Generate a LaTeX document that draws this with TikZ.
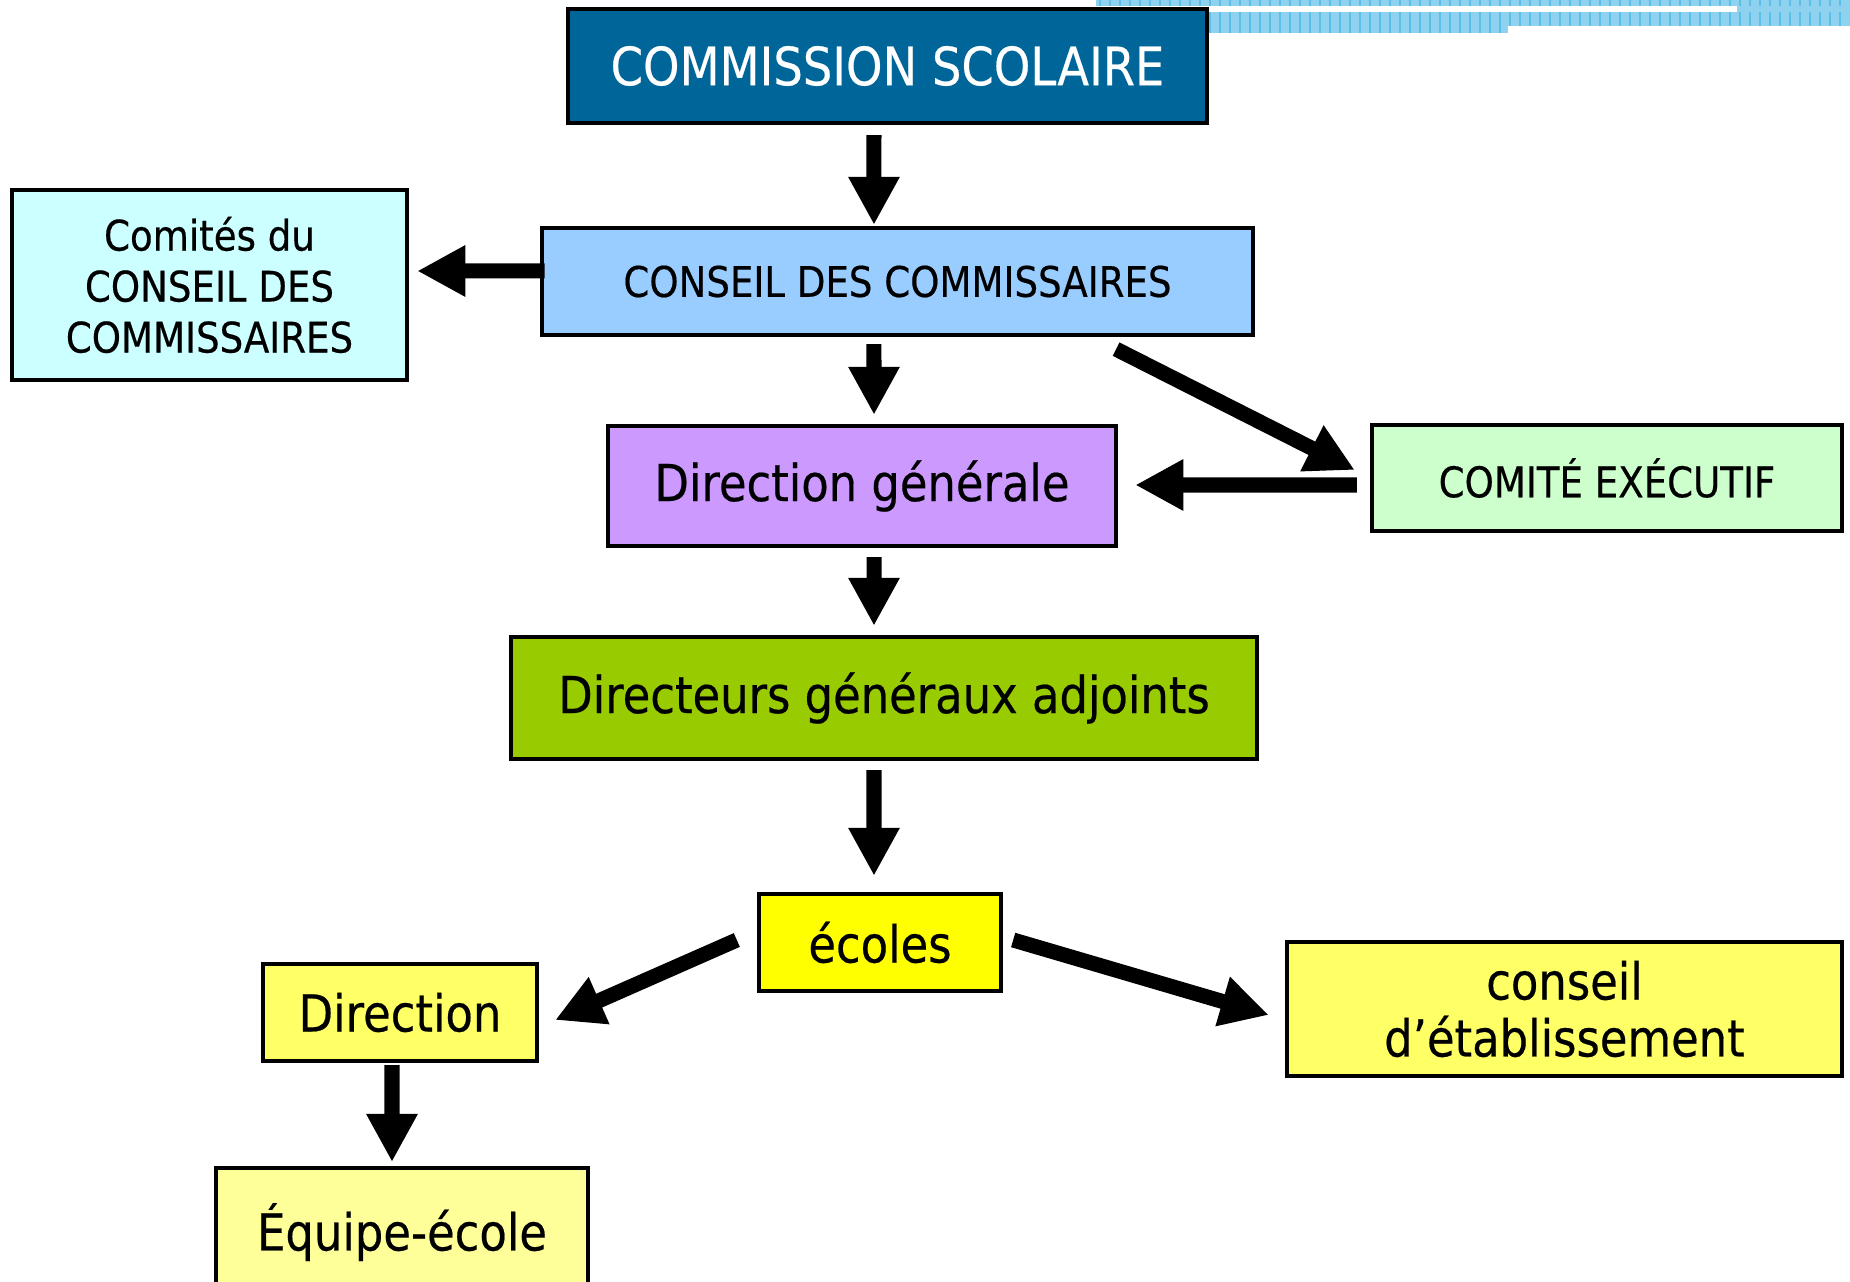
\documentclass[tikz,border=0pt]{standalone}
\usepackage{fontspec}
\setmainfont{DejaVu Sans}[FakeStretch=0.88, FakeBold=0.4]
\usetikzlibrary{arrows.meta,positioning}

\definecolor{csblue}{HTML}{006699}
\definecolor{cdcblue}{HTML}{99CCFF}
\definecolor{comcyan}{HTML}{CCFFFF}
\definecolor{dgmauve}{HTML}{CC99FF}
\definecolor{cegreen}{HTML}{CCFFCC}
\definecolor{dgagreen}{HTML}{99CC00}
\definecolor{ecyellow}{HTML}{FFFF00}
\definecolor{diryellow}{HTML}{FFFF66}
\definecolor{eqyellow}{HTML}{FFFF99}
\definecolor{stripefill}{HTML}{8ED2F0}
\definecolor{stripeline}{HTML}{5CBFE8}

\tikzset{
  box/.style={draw=black, line width=1.2pt, align=center, inner sep=0pt,
    font=\fontsize{14.5}{16.5}\selectfont},
  smallbox/.style={box, font=\fontsize{12}{14.5}\selectfont},
  bigarrow/.style={line width=0.15cm, -{Triangle[width=0.48cm,length=0.48cm]}},
}

\begin{document}
\begin{tikzpicture}[x=0.01cm, y=-0.01cm]
    \useasboundingbox (0,0) rectangle (1850,1282);

    % bandeau en haut a droite
    \fill[stripefill] (1096,0) rectangle (1850,6);
    \fill[stripefill] (1096,12) rectangle (1508,33);
    \fill[stripefill] (1508,12) rectangle (1850,26);
    \fill[stripefill] (1737,0) rectangle (1850,26);
    \foreach \x in {1100,1110,...,1500} {
      \draw[stripeline, line width=0.4pt] (\x,0) -- (\x,6) (\x,12) -- (\x,33);
    }
    \foreach \x in {1510,1520,...,1840} {
      \draw[stripeline, line width=0.4pt] (\x,0) -- (\x,6) (\x,12) -- (\x,26);
    }

    \node (cs) [box, fill=csblue, text=white, minimum width=6.39cm, minimum height=1.14cm,
      font=\fontsize{15}{18}\selectfont] at (887.5,66) {COMMISSION SCOLAIRE};
    \node (cdc) [smallbox, fill=cdcblue, minimum width=7.11cm, minimum height=1.07cm]
      at (897.5,281.5) {CONSEIL DES COMMISSAIRES};
    \node (comites) [smallbox, fill=comcyan, minimum width=3.95cm, minimum height=1.90cm]
      at (209.5,285) {Comités du\\CONSEIL DES\\COMMISSAIRES};
    \node (dg) [box, fill=dgmauve, minimum width=5.08cm, minimum height=1.20cm]
      at (862,486) {Direction générale};
    \node (ce) [smallbox, fill=cegreen, minimum width=4.70cm, minimum height=1.06cm]
      at (1607,478) {COMITÉ EXÉCUTIF};
    \node (dga) [box, fill=dgagreen, minimum width=7.46cm, minimum height=1.22cm]
      at (884,698) {Directeurs généraux adjoints};
    \node (ecoles) [box, fill=ecyellow, minimum width=2.42cm, minimum height=0.97cm]
      at (880,942.5) {écoles};
    \node (direction) [box, fill=diryellow, minimum width=2.74cm, minimum height=0.97cm]
      at (400,1012.5) {Direction};
    \node (conseil) [box, fill=diryellow, minimum width=5.55cm, minimum height=1.34cm,
      font=\fontsize{14.5}{16.2}\selectfont] at (1564.5,1009) {conseil\\d’établissement};
    \node (equipe) [box, fill=eqyellow, minimum width=3.72cm, minimum height=1.28cm,
      anchor=north] at (402,1166) {Équipe-école};

    \draw[bigarrow, shorten <=0.1cm, shorten >=0.01cm]
      ([xshift=-0.135cm]cs.south) -- ([xshift=-0.235cm]cdc.north);
    \draw[bigarrow, shorten <=-0.05cm, shorten >=0.08cm]
      ([yshift=0.105cm]cdc.west) -- ([yshift=0.14cm]comites.east);
    \draw[bigarrow, shorten <=0.07cm, shorten >=0.09cm]
      ([xshift=-0.235cm]cdc.south) -- ([xshift=0.12cm]dg.north);
    \draw[bigarrow]
      ([xshift=2.185cm, yshift=-0.12cm]cdc.south) -- ([xshift=-0.15cm, yshift=0.08cm]ce.west);
    \draw[bigarrow, shorten <=0.13cm, shorten >=0.17cm]
      ([yshift=-0.07cm]ce.west) -- ([yshift=0.01cm]dg.east);
    \draw[bigarrow, shorten <=0.09cm, shorten >=0.09cm]
      ([xshift=0.12cm]dg.south) -- ([xshift=-0.1cm]dga.north);
    \draw[bigarrow, shorten <=0.09cm, shorten >=0.16cm]
      ([xshift=-0.1cm]dga.south) -- ([xshift=-0.06cm]ecoles.north);
    \draw[bigarrow]
      ([xshift=-0.2cm, yshift=0.025cm]ecoles.west) -- ([xshift=0.16cm, yshift=-0.075cm]direction.east);
    \draw[bigarrow]
      ([xshift=0.1cm, yshift=0.025cm]ecoles.east) -- ([xshift=-0.16cm, yshift=-0.06cm]conseil.west);
    \draw[bigarrow, shorten <=0.02cm, shorten >=0.04cm]
      ([xshift=-0.08cm]direction.south) -- ([xshift=-0.1cm]equipe.north);
\end{tikzpicture}
\end{document}
